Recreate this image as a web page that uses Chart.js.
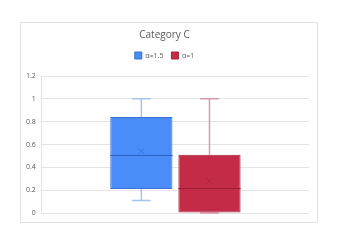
<!DOCTYPE html>
<html>
<head>
<meta charset="utf-8">
<script src="https://cdn.jsdelivr.net/npm/chart.js@4"></script>
<style>
  html, body { margin: 0; padding: 0; background: #fff; }
  #wrap { position: relative; width: 338px; height: 245px; }
</style>
</head>
<body>
<div id="wrap"><canvas id="chart" width="338" height="245"></canvas></div>
<script>
const categories = ['C'];
const seriesNames = ['\u03b1=1.5', '\u03b1=1'];
const mins = [0.11, 0];
const q1s = [0.21, 0];
const medians = [0.51, 0.22];
const q3s = [0.84, 0.51];
const maxs = [1, 1];
const means = [0.54, 0.28];
const yMax = 1.2;
const yStep = 0.2;

const fills = ['#4a8cf8', '#c42b46'];
const borders = ['#3b6fd0', '#a3223b'];
const whiskerColors = ['#a9c3f0', '#d99aa6'];
const medianColors = ['#2c5fc4', '#9a1f36'];

// frame around the whole chart, like the spreadsheet chart area
const framePlugin = {
  id: 'frame',
  beforeLayout(chart) {
    // a bit more room under the legend
    const legend = chart.legend;
    if (legend && !legend._padded) {
      const fit = legend.fit;
      legend.fit = function () {
        fit.call(this);
        this.height += 7;
      };
      legend._padded = true;
    }
  },
  beforeDraw(chart) {
    const ctx = chart.ctx;
    ctx.save();
    ctx.strokeStyle = '#e3e3e3';
    ctx.lineWidth = 1;
    ctx.strokeRect(20.5, 22.5, 297, 200);
    ctx.restore();
  },
};

// whiskers, median and mean marks on top of the floating bars
const boxPlugin = {
  id: 'boxExtras',
  beforeDatasetsDraw(chart) {
    const ctx = chart.ctx;
    const y = chart.scales.y;
    chart.data.datasets.forEach((ds, i) => {
      const meta = chart.getDatasetMeta(i);
      if (meta.hidden) return;
      meta.data.forEach((bar) => {
        const cx = bar.x;
        const capHalf = bar.width * 0.15;
        ctx.save();
        ctx.strokeStyle = whiskerColors[i];
        ctx.lineWidth = 1.5;
        ctx.beginPath();
        ctx.moveTo(cx, y.getPixelForValue(maxs[i]));
        ctx.lineTo(cx, y.getPixelForValue(q3s[i]));
        ctx.moveTo(cx, y.getPixelForValue(q1s[i]));
        ctx.lineTo(cx, y.getPixelForValue(mins[i]));
        ctx.stroke();
        const top = y.getPixelForValue(maxs[i]);
        const bot = y.getPixelForValue(mins[i]);
        ctx.beginPath();
        ctx.moveTo(cx - capHalf, top);
        ctx.lineTo(cx + capHalf, top);
        ctx.moveTo(cx - capHalf, bot);
        ctx.lineTo(cx + capHalf, bot);
        ctx.stroke();
        ctx.restore();
      });
    });
  },
  afterDatasetsDraw(chart) {
    const ctx = chart.ctx;
    const y = chart.scales.y;
    chart.data.datasets.forEach((ds, i) => {
      const meta = chart.getDatasetMeta(i);
      if (meta.hidden) return;
      meta.data.forEach((bar) => {
        const cx = bar.x;
        const half = bar.width / 2;
        ctx.save();
        ctx.strokeStyle = medianColors[i];
        ctx.lineWidth = 1;
        const my = Math.round(y.getPixelForValue(medians[i])) + 0.5;
        ctx.beginPath();
        ctx.moveTo(cx - half, my);
        ctx.lineTo(cx + half, my);
        ctx.stroke();
        const ay = y.getPixelForValue(means[i]);
        ctx.globalAlpha = 0.5;
        ctx.beginPath();
        ctx.moveTo(cx - 3, ay - 3);
        ctx.lineTo(cx + 3, ay + 3);
        ctx.moveTo(cx + 3, ay - 3);
        ctx.lineTo(cx - 3, ay + 3);
        ctx.stroke();
        ctx.restore();
      });
    });
  },
};

const datasets = seriesNames.map((name, i) => ({
  label: name,
  data: [[q1s[i], q3s[i]]],
  backgroundColor: fills[i],
  borderColor: borders[i],
  borderWidth: 1,
  borderSkipped: false,
  categoryPercentage: 0.51,
  barPercentage: 0.913,
}));

new Chart(document.getElementById('chart'), {
  type: 'bar',
  data: { labels: categories, datasets },
  plugins: [framePlugin, boxPlugin],
  options: {
    responsive: false,
    animation: false,
    layout: { padding: { left: 20, right: 29, top: 29, bottom: 24 } },
    plugins: {
      title: {
        display: true,
        text: 'Category C',
        color: '#595959',
        font: { family: 'Open Sans', size: 10, weight: 'normal' },
        padding: { top: 0, bottom: 3 },
      },
      legend: {
        display: true,
        labels: {
          color: '#595959',
          font: { family: 'Open Sans', size: 7 },
          boxWidth: 7,
          boxHeight: 7,
          padding: 8,
        },
      },
      tooltip: { enabled: false },
    },
    scales: {
      x: {
        ticks: { display: false },
        grid: { display: false },
        border: { display: false },
      },
      y: {
        min: 0,
        max: yMax,
        ticks: {
          stepSize: yStep,
          color: '#595959',
          font: { family: 'Open Sans', size: 7 },
          padding: 6,
          callback: (v) => String(Number(v.toFixed(1))),
        },
        grid: { color: '#e4e4e4', drawTicks: false },
        border: { display: true, color: '#e4e4e4' },
      },
    },
  },
});
</script>
</body>
</html>
